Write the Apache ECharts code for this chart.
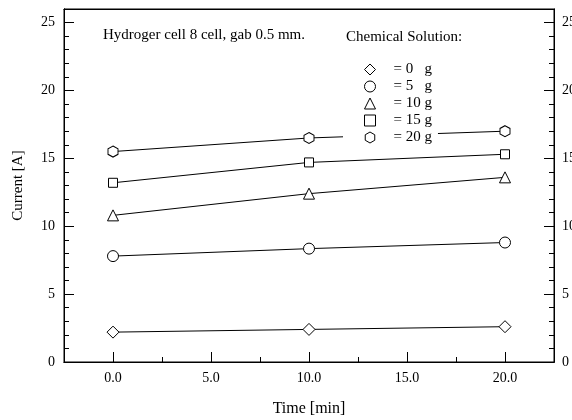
<!DOCTYPE html>
<html>
<head>
<meta charset="utf-8">
<script src="https://cdn.jsdelivr.net/npm/echarts@6/dist/echarts.min.js"></script>
<style>html,body{margin:0;padding:0;background:#fff;}#c{width:572px;height:420px;}</style>
</head>
<body>
<div id="c"></div>
<script>
var times = [0, 10, 20];
var seriesNames = ['= 0   g', '= 5   g', '= 10 g', '= 15 g', '= 20 g'];
var current0g = [2.2, 2.4, 2.6];
var current5g = [7.8, 8.35, 8.8];
var current10g = [10.8, 12.4, 13.6];
var current15g = [13.2, 14.7, 15.3];
var current20g = [15.5, 16.5, 17.0];
var xMajorTicks = [0, 5, 10, 15, 20];
var xMinorTicks = [2.5, 7.5, 12.5, 17.5];
var yMajorTicks = [0, 5, 10, 15, 20, 25];
var yMinorTicks = [1,2,3,4,6,7,8,9,11,12,13,14,16,17,18,19,21,22,23,24];

var FONT = '"Liberation Serif","Times New Roman",serif';
var hexPath = 'path://M0,-10L8.66,-5L8.66,5L0,10L-8.66,5L-8.66,-5Z';
var symbols = ['diamond', 'circle', 'triangle', 'rect', hexPath];
var sizes = [12, 11, 11, 9, [10, 11]];
var allData = [current0g, current5g, current10g, current15g, current20g];

function pairs(arr) { return times.map(function (t, i) { return [t, arr[i]]; }); }

var hollow = { color: '#fff', borderColor: '#000', borderWidth: 1 };

var series = allData.map(function (d, i) {
  return {
    name: seriesNames[i], type: 'line', data: pairs(d),
    symbol: symbols[i], symbolSize: sizes[i],
    lineStyle: { color: '#000', width: 1 },
    itemStyle: hollow,
    emphasis: { disabled: true },
    animation: false, z: 2
  };
});

function yAx(pos, ticks, len, labels) {
  return {
    type: 'value', position: pos, min: 0, max: 26,
    axisLine: { show: true, onZero: false, lineStyle: { color: '#000', width: 1 } },
    axisTick: { show: true, inside: true, length: len, customValues: ticks, lineStyle: { color: '#000' } },
    axisLabel: labels ? { show: true, customValues: ticks, margin: 9, color: '#000', fontFamily: FONT, fontSize: 14 } : { show: false },
    splitLine: { show: false }
  };
}
function xAx(pos, ticks, len, labels) {
  return {
    type: 'value', position: pos, min: -2.5, max: 22.5,
    axisLine: { show: true, onZero: false, lineStyle: { color: '#000', width: 1 } },
    axisTick: ticks ? { show: true, inside: true, length: len, customValues: ticks, lineStyle: { color: '#000' } } : { show: false },
    axisLabel: labels ? { show: true, customValues: ticks, margin: 9, color: '#000', fontFamily: FONT, fontSize: 14,
      formatter: function (v) { return v.toFixed(1); } } : { show: false },
    splitLine: { show: false }
  };
}

var xa0 = xAx('bottom', xMajorTicks, 10, true);
xa0.name = 'Time [min]'; xa0.nameLocation = 'middle'; xa0.nameGap = 39;
xa0.nameTextStyle = { color: '#000', fontFamily: FONT, fontSize: 16 };
var ya0 = yAx('left', yMajorTicks, 10, true);
ya0.name = 'Current [A]'; ya0.nameLocation = 'middle'; ya0.nameGap = 38; ya0.nameRotate = 90;
ya0.nameTextStyle = { color: '#000', fontFamily: FONT, fontSize: 15 };
var ya2 = yAx('right', yMajorTicks, 10, true);
ya2.axisLabel.margin = 8;

var chart = echarts.init(document.getElementById('c'), null, { renderer: 'canvas' });
chart.setOption({
  backgroundColor: '#fff',
  animation: false,
  grid: { left: 64, right: 18, top: 9, bottom: 58, show: true, borderColor: '#000', borderWidth: 1,
    backgroundColor: 'transparent', containLabel: false, outerBoundsMode: 'none' },
  title: [
    { text: 'Hydroger cell 8 cell, gab 0.5 mm.', left: 103, top: 28, padding: 0,
      textStyle: { color: '#000', fontFamily: FONT, fontSize: 15, fontWeight: 'normal' } },
    { text: 'Chemical Solution:', left: 346, top: 30, padding: 0,
      textStyle: { color: '#000', fontFamily: FONT, fontSize: 15, fontWeight: 'normal' } }
  ],
  legend: {
    orient: 'vertical', left: 343, top: 57,
    padding: [5, 6, 5, 21], itemGap: 2,
    itemWidth: 11, itemHeight: 11,
    backgroundColor: '#fff', z: 5,
    selectedMode: false,
    textStyle: { color: '#000', fontFamily: FONT, fontSize: 15, padding: [0, 0, 0, 13] },
    data: seriesNames.map(function (n, i) {
      return { name: n, icon: symbols[i], itemStyle: hollow };
    })
  },
  xAxis: [xa0, xAx('bottom', xMinorTicks, 5, false), xAx('top', null, 0, false)],
  yAxis: [ya0, yAx('left', yMinorTicks, 5, false), ya2, yAx('right', yMinorTicks, 5, false)],
  series: series
});
</script>
</body>
</html>
